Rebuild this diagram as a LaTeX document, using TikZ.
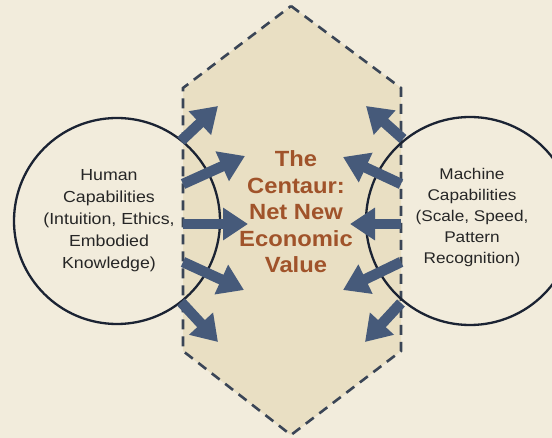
\documentclass[tikz,border=0pt]{standalone}
\usepackage{fontspec}
\setmainfont{Liberation Sans}
\usepackage{xcolor}
\usetikzlibrary{arrows.meta}

\definecolor{paper}{HTML}{F2ECDC}
\definecolor{hexfill}{HTML}{E9DFC3}
\definecolor{hexline}{HTML}{3A4556}
\definecolor{ringline}{HTML}{1B2333}
\definecolor{flow}{HTML}{465A7A}
\definecolor{centaur}{HTML}{A0532A}

\tikzset{
  ring/.style={circle, draw=ringline, line width=2.3pt, minimum size=206pt, inner sep=0pt},
  flowarrow/.style={-{Triangle[length=25pt, width=31pt]}, flow, line width=10.5pt},
  sidetext/.style={align=center, text=black!85, xscale=1.11, transform shape},
}

\begin{document}
\begin{tikzpicture}[x=1pt, y=-1pt]
\useasboundingbox (0,0) rectangle (552,438);
\fill[paper] (0,0) rectangle (552,438);

% Sechseck in der Mitte
\filldraw[fill=hexfill, draw=hexline, line width=2.6pt, dash pattern=on 10pt off 7pt]
  (291,6) -- (401,88) -- (401,351) -- (291,435) -- (183,351) -- (183,88) -- cycle;

% die beiden Kreise
\node[ring] (human) at (117,221) {};
\node[ring, minimum size=208pt] (machine) at (470,221) {};

% Anfangs- und Endpunkte der Pfeile
\coordinate (ha) at (181,141);  \coordinate (hA) at (218,106);
\coordinate (hb) at (183,184);  \coordinate (hB) at (245,156);
\coordinate (hc) at (183,224);  \coordinate (hC) at (248,224);
\coordinate (hd) at (183,262);  \coordinate (hD) at (244,290);
\coordinate (he) at (181,302);  \coordinate (hE) at (218,342);
\coordinate (ma) at (403,139);  \coordinate (mA) at (366,106);
\coordinate (mb) at (401,184);  \coordinate (mB) at (343,157);
\coordinate (mc) at (401,224);  \coordinate (mC) at (350,224);
\coordinate (md) at (401,262);  \coordinate (mD) at (343,290);
\coordinate (me) at (401,303);  \coordinate (mE) at (365,342);

\foreach \s/\t in {ha/hA, hb/hB, hc/hC, hd/hD, he/hE, ma/mA, mb/mB, mc/mC, md/mD, me/mE}
  \draw[flowarrow] (\s) -- (\t);

% Texte
\node[sidetext, font=\fontsize{16}{22}\selectfont] (humantext) at (109,221)
  {Human\\Capabilities\\(Intuition, Ethics,\\Embodied\\Knowledge)};
\node[sidetext, font=\fontsize{15.5}{21}\selectfont] (machinetext) at (472,217)
  {Machine\\Capabilities\\(Scale, Speed,\\Pattern\\Recognition)};
\node[align=center, text=centaur, xscale=1.08, transform shape,
      font=\bfseries\fontsize{22}{26.5}\selectfont] (value) at (296,212)
  {The\\Centaur:\\Net New\\Economic\\Value};
\end{tikzpicture}
\end{document}
